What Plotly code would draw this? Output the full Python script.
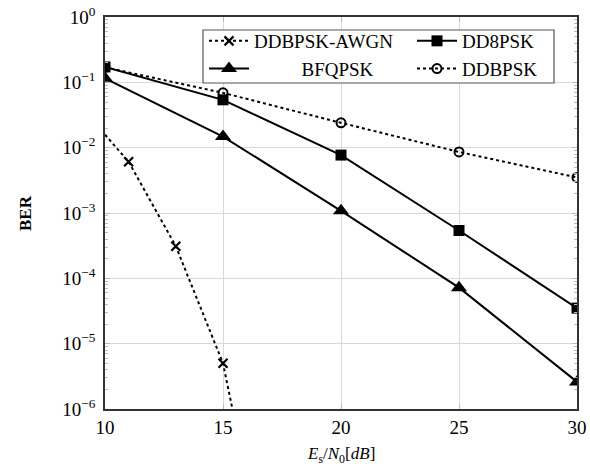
import plotly.graph_objects as go

snr = [10, 15, 20, 25, 30]
dd8psk = [0.172, 0.054, 0.0077, 5.4e-4, 3.5e-5]
bfqpsk = [0.115, 0.0148, 1.08e-3, 7.2e-5, 2.6e-6]
ddbpsk = [0.17, 0.069, 0.024, 0.0086, 0.0035]
awgn_snr = [9, 11, 13, 15, 17]
awgn = [0.041, 0.0061, 3.1e-4, 5e-6, 1.6e-9]

ytick_vals = [1, 0.1, 0.01, 1e-3, 1e-4, 1e-5, 1e-6]
ytick_text = ["10<sup>0</sup>", "10<sup>−1</sup>", "10<sup>−2</sup>", "10<sup>−3</sup>",
              "10<sup>−4</sup>", "10<sup>−5</sup>", "10<sup>−6</sup>"]
xtick_vals = [10, 15, 20, 25, 30]
minor_vals = [m * 10.0 ** e for e in range(-6, 0) for m in range(2, 10)]

FONT = "Liberation Serif"
NB = "\u00a0"
fig = go.Figure()
fig.add_trace(go.Scatter(x=awgn_snr, y=awgn, name="DDBPSK-AWGN", mode="lines+markers",
                         legend="legend",
                         line=dict(color="black", width=2, dash="dot"),
                         marker=dict(symbol="x-thin", size=9, line=dict(color="black", width=2.2))))
fig.add_trace(go.Scatter(x=snr, y=dd8psk, name="DD8PSK", mode="lines+markers",
                         legend="legend2",
                         line=dict(color="black", width=2),
                         marker=dict(symbol="square", size=11, color="black")))
fig.add_trace(go.Scatter(x=snr, y=bfqpsk, name=NB * 10 + "BFQPSK", mode="lines+markers",
                         legend="legend",
                         line=dict(color="black", width=2),
                         marker=dict(symbol="triangle-up", size=14, color="black")))
fig.add_trace(go.Scatter(x=snr, y=ddbpsk, name="DDBPSK", mode="lines+markers",
                         legend="legend2",
                         line=dict(color="black", width=2, dash="dot"),
                         marker=dict(symbol="circle-open", size=9, color="black", line=dict(width=2))))

W, H = 590, 472
L, R, T, B = 105, 13, 17, 63
PW, PH = W - L - R, H - T - B


def px(xp):
    return (xp - L) / PW


def py(yp):
    return 1 - (yp - T) / PH


leg_common = dict(orientation="v", xanchor="left", yanchor="top", borderwidth=0,
                  bgcolor="rgba(0,0,0,0)", itemwidth=40, font=dict(size=19, family=FONT),
                  tracegroupgap=0)
fig.update_layout(
    width=W, height=H,
    margin=dict(l=L, r=R, t=T, b=B, autoexpand=False),
    paper_bgcolor="white", plot_bgcolor="white",
    font=dict(family=FONT, size=17, color="black"),
    showlegend=True,
    legend=dict(x=px(204), y=py(22), entrywidth=165, **leg_common),
    legend2=dict(x=px(412), y=py(22), entrywidth=90, **leg_common),
    shapes=[dict(type="rect", xref="paper", yref="paper", x0=px(203), x1=px(554),
                 y0=py(83), y1=py(30), line=dict(color="#555", width=1.2),
                 fillcolor="white", layer="above")],
    annotations=[
        dict(text="<i>E</i><sub>s</sub>/<i>N</i><sub>0</sub>[<i>dB</i>]", xref="paper", yref="paper",
             x=0.5, y=py(455), xanchor="center", yanchor="middle",
             showarrow=False, font=dict(size=17)),
        dict(text="<b>BER</b>", xref="paper", yref="paper",
             x=px(25), y=0.5, xanchor="center", yanchor="middle",
             textangle=-90, showarrow=False, font=dict(size=17)),
    ],
)
fig.update_xaxes(range=[10, 30], tickvals=xtick_vals, showgrid=True, gridcolor="#d9d9d9",
                 showline=True, linecolor="#333", linewidth=1.5, mirror="allticks",
                 ticks="inside", ticklen=5, tickcolor="#bbb", zeroline=False,
                 tickfont=dict(size=19), automargin=False)
fig.update_yaxes(type="log", range=[-6, 0], tickvals=ytick_vals, ticktext=ytick_text,
                 showgrid=True, gridcolor="#d9d9d9",
                 showline=True, linecolor="#333", linewidth=1.5, mirror="allticks",
                 ticks="inside", ticklen=5, tickcolor="#bbb", zeroline=False,
                 tickfont=dict(size=19), automargin=False, ticklabelstandoff=4,
                 minor=dict(ticks="inside", ticklen=3, tickcolor="#bbb", showgrid=False,
                            tickmode="array", tickvals=minor_vals))

fig.write_html("out.html", config={"displayModeBar": False},
               post_script="document.body.style.margin='0px';")
